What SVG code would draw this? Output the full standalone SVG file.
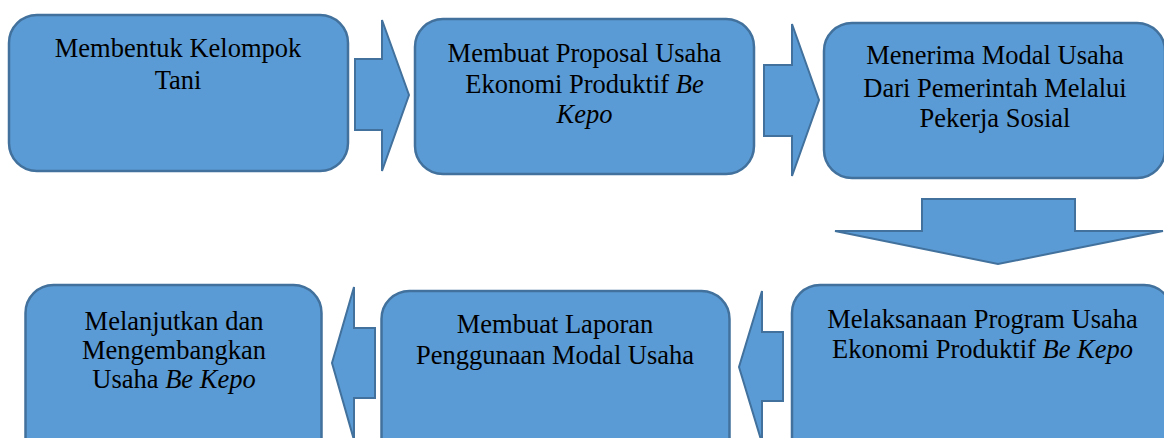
<svg xmlns="http://www.w3.org/2000/svg" width="1164" height="438" viewBox="0 0 1164 438" font-family="Liberation Serif, Times New Roman, DejaVu Serif, serif">
<style>
.box{fill:#5B9BD5;stroke:#41719C;stroke-width:2.5}
.arr{fill:#5B9BD5;stroke:#41719C;stroke-width:2;stroke-linejoin:miter}
text{font-family:'Liberation Serif','Times New Roman','DejaVu Serif',serif;font-size:26.5px;fill:#000;text-anchor:middle}
.i{font-style:italic}
</style>
<rect width="1164" height="438" fill="#fff"/>
<g id="connectors">
<polygon class="arr" points="355,59 382,59 382,20 409,95 382,171 382,130 355,130"/>
<polygon class="arr" points="764,65 792,65 792,24 819,100 792,176 792,136 764,136"/>
<polygon class="arr" points="922,199 1075,199 1075,231 1163,231 998,264 835,231 922,231"/>
<polygon class="arr" points="375,328 354,328 354,287 332,363 354,440 354,398 375,398"/>
<polygon class="arr" points="783,332 762,332 762,291 739,367 762,443 762,401 783,401"/>
</g>
<g id="node1">
<rect class="box" x="9" y="15" width="339" height="156" rx="28"/>
<text x="178" y="57">Membentuk Kelompok</text>
<text x="178" y="89">Tani</text>
</g>
<g id="node2">
<rect class="box" x="415" y="19" width="339" height="155" rx="28"/>
<text x="584.5" y="62">Membuat Proposal Usaha</text>
<text x="584.5" y="93">Ekonomi Produktif <tspan class="i">Be</tspan></text>
<text x="584.5" y="123" class="i">Kepo</text>
</g>
<g id="node3">
<rect class="box" x="824" y="23" width="341" height="155" rx="28"/>
<text x="995" y="64">Menerima Modal Usaha</text>
<text x="995" y="97">Dari Pemerintah Melalui</text>
<text x="995" y="127">Pekerja Sosial</text>
</g>
<g id="node4">
<rect class="box" x="25.5" y="285" width="296" height="180" rx="28"/>
<text x="174" y="330">Melanjutkan dan</text>
<text x="174" y="359">Mengembangkan</text>
<text x="174" y="388">Usaha <tspan class="i">Be Kepo</tspan></text>
</g>
<g id="node5">
<rect class="box" x="381.5" y="291" width="348" height="180" rx="28"/>
<text x="555" y="333">Membuat Laporan</text>
<text x="555" y="364">Penggunaan Modal Usaha</text>
</g>
<g id="node6">
<rect class="box" x="792" y="285" width="380" height="180" rx="28"/>
<text x="982.5" y="328">Melaksanaan Program Usaha</text>
<text x="982.5" y="358">Ekonomi Produktif <tspan class="i">Be Kepo</tspan></text>
</g>
</svg>
